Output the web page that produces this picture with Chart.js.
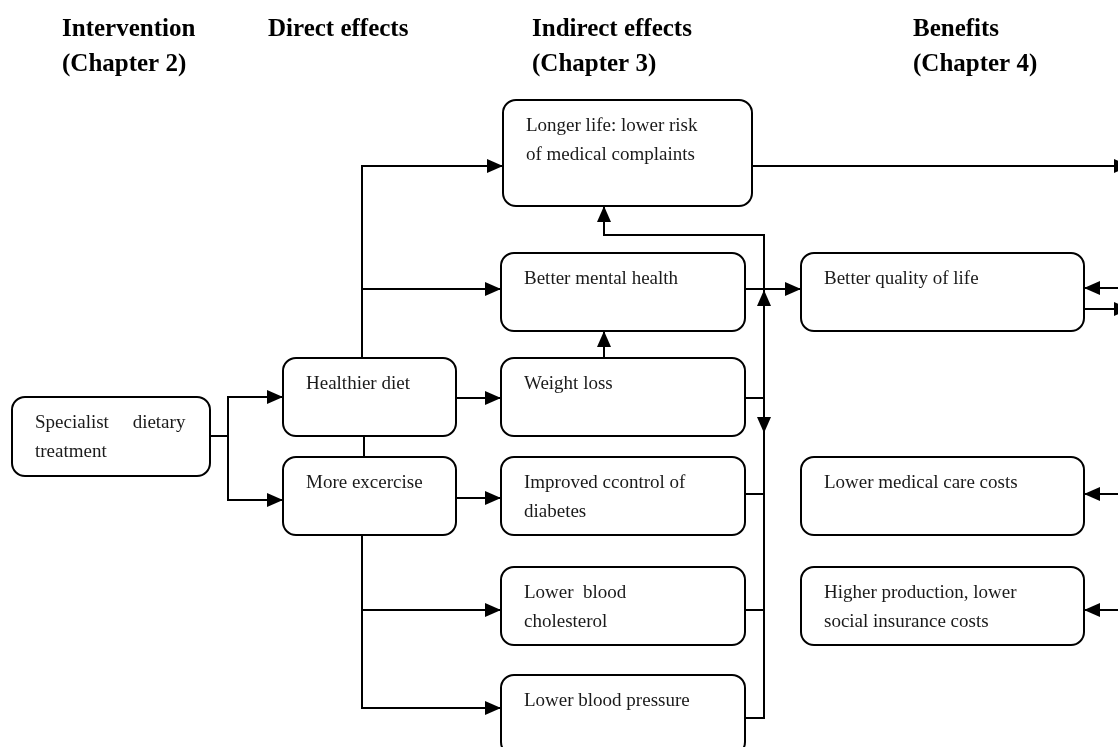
<!DOCTYPE html>
<html lang="en">
<head>
<meta charset="UTF-8">
<title>Specialist dietary treatment - effects and benefits</title>
<script src="https://cdn.jsdelivr.net/npm/chart.js@4.4.7/dist/chart.umd.min.js"></script>
<style>
  * { margin: 0; padding: 0; box-sizing: border-box; }
  body { background: #fff; width: 1118px; height: 747px; overflow: hidden; }
  #wrap { width: 1118px; height: 747px; }
</style>
</head>
<body>
<div id="wrap"><canvas id="flow" width="1118" height="747"></canvas></div>
<script>
// column headers
const headerTop = ['Intervention', 'Direct effects', 'Indirect effects', 'Benefits'];
const headerBottom = ['(Chapter 2)', '', '(Chapter 3)', '(Chapter 4)'];
const headerX = [62, 268, 532, 913];

// boxes (diagram units = pixels of the original figure)
const boxLabels = [
  ['Specialist     dietary', 'treatment'],
  ['Healthier diet'],
  ['More excercise'],
  ['Longer life: lower risk', 'of medical complaints'],
  ['Better mental health'],
  ['Weight loss'],
  ['Improved ccontrol of', 'diabetes'],
  ['Lower  blood', 'cholesterol'],
  ['Lower blood pressure'],
  ['Better quality of life'],
  ['Lower medical care costs'],
  ['Higher production, lower', 'social insurance costs']
];
const boxLeft   = [12, 283, 283, 503, 501, 501, 501, 501, 501, 801, 801, 801];
const boxRight  = [210, 456, 456, 752, 745, 745, 745, 745, 745, 1084, 1084, 1084];
const boxTop    = [397, 358, 457, 100, 253, 358, 457, 567, 675, 253, 457, 567];
const boxBottom = [476, 436, 535, 206, 331, 436, 535, 645, 755, 331, 535, 645];

// connector lines
const connectors = [
  [[210, 436], [228, 436]],
  [[283, 397], [228, 397], [228, 500], [283, 500]],
  [[362, 358], [362, 166], [503, 166]],
  [[362, 289], [501, 289]],
  [[364, 436], [364, 457]],
  [[362, 535], [362, 708], [501, 708]],
  [[362, 610], [501, 610]],
  [[456, 398], [501, 398]],
  [[456, 498], [501, 498]],
  [[604, 358], [604, 331]],
  [[604, 206], [604, 235], [764, 235], [764, 718], [745, 718]],
  [[745, 289], [801, 289]],
  [[745, 398], [764, 398]],
  [[745, 494], [764, 494]],
  [[745, 610], [764, 610]],
  [[752, 166], [1118, 166]],
  [[1084, 288], [1118, 288]],
  [[1084, 309], [1118, 309]],
  [[1084, 494], [1118, 494]],
  [[1084, 610], [1118, 610]]
];

// arrow heads: tip x, tip y, direction (deg, 0 = right, 90 = down)
const arrowTips = [
  [283, 397, 0], [283, 500, 0], [503, 166, 0], [501, 289, 0],
  [501, 398, 0], [501, 498, 0], [501, 610, 0], [501, 708, 0],
  [604, 331, 270], [604, 206, 270], [801, 289, 0],
  [764, 290, 270], [764, 433, 90],
  [1130, 166, 0], [1084, 288, 180], [1130, 309, 0],
  [1084, 494, 180], [1084, 610, 180]
];

const ARROW_LEN = 16, ARROW_W = 14;

// arrow head image, pointing right, centred on the point
const arrowImg = document.createElement('canvas');
arrowImg.width = ARROW_LEN;
arrowImg.height = ARROW_W;
(function () {
  const c = arrowImg.getContext('2d');
  c.fillStyle = '#000';
  c.beginPath();
  c.moveTo(0, 0);
  c.lineTo(ARROW_LEN, ARROW_W / 2);
  c.lineTo(0, ARROW_W);
  c.closePath();
  c.fill();
})();

const arrowPoints = arrowTips.map(a => {
  const r = a[2] * Math.PI / 180;
  return { x: a[0] - Math.cos(r) * ARROW_LEN / 2, y: a[1] - Math.sin(r) * ARROW_LEN / 2 };
});

const datasets = connectors.map(path => ({
  data: path.map(p => ({ x: p[0], y: p[1] })),
  showLine: true,
  borderColor: '#000',
  borderWidth: 2,
  pointRadius: 0,
  tension: 0,
  fill: false
}));
datasets.push({
  data: arrowPoints,
  showLine: false,
  pointStyle: arrowImg,
  pointRotation: arrowTips.map(a => a[2]),
  pointRadius: 8,
  pointBorderWidth: 0
});

// boxes and headers, placed through the chart scales
const boxPlugin = {
  id: 'boxes',
  beforeDatasetsDraw(chart) {
    const ctx = chart.ctx;
    const xs = chart.scales.x, ys = chart.scales.y;
    ctx.save();

    ctx.fillStyle = '#000';
    ctx.font = 'bold 25px "Liberation Serif", "Times New Roman", serif';
    ctx.textBaseline = 'alphabetic';
    headerTop.forEach((t, i) => {
      ctx.fillText(t, xs.getPixelForValue(headerX[i]), ys.getPixelForValue(36));
      if (headerBottom[i]) ctx.fillText(headerBottom[i], xs.getPixelForValue(headerX[i]), ys.getPixelForValue(71));
    });

    boxLabels.forEach((lines, i) => {
      const l = xs.getPixelForValue(boxLeft[i]);
      const r = xs.getPixelForValue(boxRight[i]);
      const t = ys.getPixelForValue(boxTop[i]);
      const b = ys.getPixelForValue(boxBottom[i]);
      ctx.beginPath();
      ctx.roundRect(l, t, r - l, b - t, 13);
      ctx.fillStyle = '#fff';
      ctx.fill();
      ctx.lineWidth = 2;
      ctx.strokeStyle = '#000';
      ctx.stroke();

      ctx.fillStyle = '#1a1a1a';
      ctx.font = '19px "Liberation Serif", "Times New Roman", serif';
      lines.forEach((line, k) => {
        ctx.fillText(line, l + 23, t + 31 + k * 29);
      });
    });
    ctx.restore();
  }
};

new Chart(document.getElementById('flow'), {
  type: 'scatter',
  data: { datasets },
  options: {
    responsive: false,
    animation: false,
    events: [],
    layout: { padding: 0, autoPadding: false },
    plugins: { legend: { display: false }, tooltip: { enabled: false } },
    scales: {
      x: { type: 'linear', min: 0, max: 1118, display: false },
      y: { type: 'linear', min: 0, max: 747, reverse: true, display: false }
    }
  },
  plugins: [boxPlugin]
});
</script>
</body>
</html>
